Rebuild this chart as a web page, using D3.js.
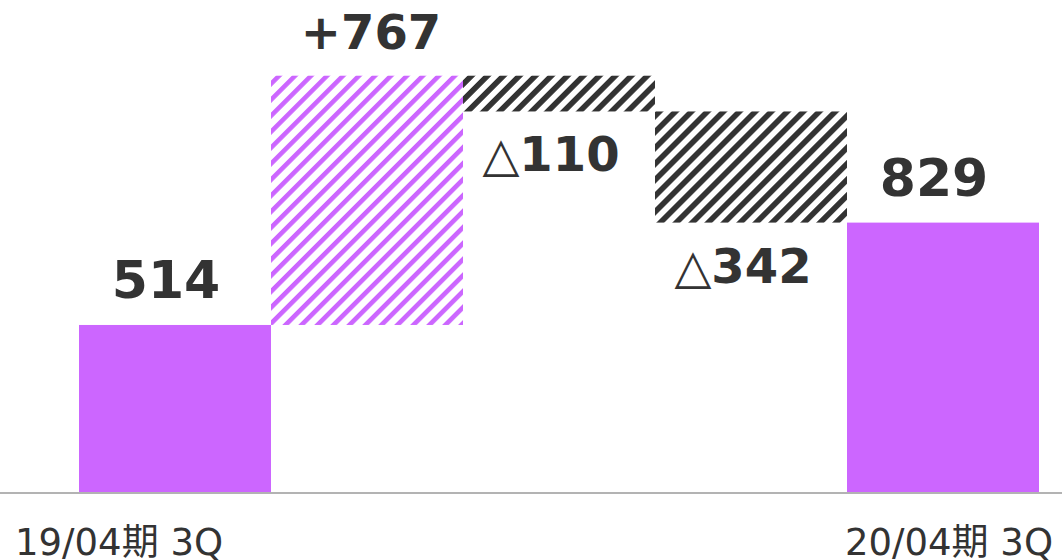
<!DOCTYPE html>
<html>
<head>
<meta charset="utf-8">
<script src="https://cdn.jsdelivr.net/npm/d3@7"></script>
<style>
  html, body { margin: 0; padding: 0; background: #fff; }
  svg { display: block; }
</style>
</head>
<body>
<svg id="chart" width="1062" height="560"></svg>
<script>
// ---- data ----
const categories = ["19/04期 3Q", "", "", "", "20/04期 3Q"];
const values = [514, 767, -110, -342, 829];
const kinds = ["total", "increase", "decrease", "decrease", "total"];
const valueLabels = ["514", "+767", "△110", "△342", "829"];
const yMax = 1514;

// ---- build waterfall rows ----
let running = 0;
const rows = values.map((v, i) => {
  let start, end;
  if (kinds[i] === "total") { start = 0; end = v; running = v; }
  else { start = running; end = running + v; running = end; }
  return { i, key: "c" + i, cat: categories[i], v, kind: kinds[i], label: valueLabels[i],
           lo: Math.min(start, end), hi: Math.max(start, end) };
});

const W = 1062, H = 560;
const svg = d3.select("#chart");
const x = d3.scaleBand().domain(rows.map(d => d.key)).range([79, 1039]).padding(0);
const y = d3.scaleLinear().domain([0, yMax]).range([492, 0]);

const purple = "#CC66FF", dark = "#333333";

// ---- hatch patterns ----
const defs = svg.append("defs");
function hatch(id, color, thick) {
  const s = 11.3;
  const p = defs.append("pattern").attr("id", id)
    .attr("patternUnits", "userSpaceOnUse").attr("width", s).attr("height", s)
    .attr("patternTransform", "rotate(45)");
  p.append("rect").attr("x", 0).attr("y", 0).attr("width", thick).attr("height", s).attr("fill", color);
}
hatch("hatchPurple", purple, 4.6);
hatch("hatchDark", dark, 5.6);

const fillFor = d => d.kind === "total" ? purple : d.kind === "increase" ? "url(#hatchPurple)" : "url(#hatchDark)";

// ---- bars ----
svg.append("g").selectAll("rect").data(rows).join("rect")
  .attr("x", d => x(d.key))
  .attr("width", x.bandwidth())
  .attr("y", d => y(d.hi))
  .attr("height", d => y(d.lo) - y(d.hi))
  .attr("fill", fillFor);

// ---- axis ----
svg.append("line").attr("x1", 0).attr("x2", W).attr("y1", y(0) + 1).attr("y2", y(0) + 1)
  .attr("stroke", "#B3B3B3").attr("stroke-width", 2);

const axis = d3.axisBottom(x).tickSize(0).tickPadding(0).tickFormat((k, i) => categories[i]);
const gAxis = svg.append("g").attr("transform", `translate(0,${y(0)})`).call(axis);
gAxis.select(".domain").remove();
gAxis.selectAll("text")
  .attr("font-family", "'DejaVu Sans', 'Noto Sans CJK JP', sans-serif")
  .attr("font-size", 37).attr("fill", dark).attr("dy", null).attr("y", 63);
// first label justified toward the left edge, as in the source
gAxis.selectAll(".tick").filter((k, i) => i === 0).select("text")
  .attr("text-anchor", "start").attr("x", 15 - x(rows[0].key) - x.bandwidth() / 2);
gAxis.selectAll(".tick").filter((k, i) => i === rows.length - 1).select("text")
  .attr("x", 6);

// ---- value labels ----
const labels = svg.append("g").attr("font-family", "'DejaVu Sans', sans-serif").attr("fill", dark)
  .selectAll("text").data(rows).join("text")
  .attr("text-anchor", "middle")
  .attr("x", d => x(d.key) + x.bandwidth() / 2 - (d.kind === "decrease" ? 8 : d.kind === "total" ? 9 : -4))
  .attr("y", d => d.v >= 0 ? y(d.hi) - 27 : y(d.lo) + 60)
  .attr("font-size", d => d.kind === "total" ? 52 : 48)
  .attr("font-weight", "bold");

labels.each(function(d) {
  const t = d3.select(this);
  if (d.label.startsWith("△")) {
    t.append("tspan").attr("font-weight", "normal").text("△");
    t.append("tspan").text(d.label.slice(1));
  } else {
    t.text(d.label);
  }
});
</script>
</body>
</html>
